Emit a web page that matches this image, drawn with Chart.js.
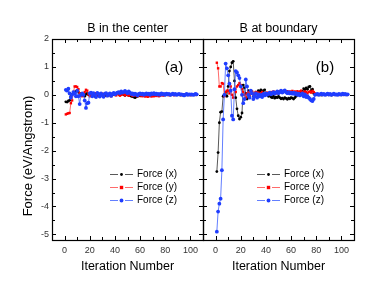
<!DOCTYPE html>
<html><head><meta charset="utf-8">
<script src="https://cdn.jsdelivr.net/npm/chart.js@4.4.0/dist/chart.umd.min.js"></script>
<style>
html,body{margin:0;padding:0;background:#fff;}
#wrap{position:relative;width:374px;height:294px;overflow:hidden;}
#wrap canvas{position:absolute;left:0;top:0;}
</style></head><body>
<div id="wrap"><canvas id="ca" width="374" height="294"></canvas><canvas id="cb" width="374" height="294"></canvas></div>
<script>
// ---- data ----
const iterations = [1,2,3,4,5,6,7,8,9,10,11,12,13,14,15,16,17,18,19,20,21,22,23,24,25,26,27,28,29,30,31,32,33,34,35,36,37,38,39,40,41,42,43,44,45,46,47,48,49,50,51,52,53,54,55,56,57,58,59,60,61,62,63,64,65,66,67,68,69,70,71,72,73,74,75,76,77,78,79,80,81,82,83,84,85,86,87,88,89,90,91,92,93,94,95,96,97,98,99,100,101,102,103,104,105];

const centerForceX = [-0.25,-0.26,-0.22,-0.2,-0.05,0.02,0.05,0.1,0.12,0.15,
 0.1,0.05,-0.02,0.03,0.0,-0.05,0.02,0.05,0.0,0.03,
 0.05,-0.03,0.02,-0.05,0.03,0.0,-0.04,0.02,0.04,-0.02,
 0.01,-0.03,0.02,0.0,-0.02,0.03,0.01,-0.01,0.02,0.0,
 0.03,0.05,0.02,0.04,0.06,0.03,0.01,-0.02,0.02,0.0,
 -0.02,-0.03,-0.05,-0.06,-0.08,-0.1,-0.07,-0.05,-0.03,-0.04,
 -0.02,0.0,-0.03,-0.02,0.01,-0.02,0.0,-0.01,0.02,0.0,
 0.01,-0.01,0.0,0.01,-0.01,0.0,0.01,0.0,-0.01,0.0,
 0.01,0.0,0.0,-0.01,0.0,0.01,0.0,0.0,0.01,0.0,
 0.0,-0.01,0.0,0.0,0.01,0.0,0.0,0.0,0.01,0.0,
 0.0,0.01,0.0,0.0,0.0];
const centerForceY = [-0.7,-0.68,-0.66,-0.65,-0.3,-0.2,0.1,0.3,0.3,0.28,
 0.2,0.05,0.0,-0.05,0.02,0.1,0.18,0.15,0.02,-0.05,
 0.04,-0.03,0.02,0.05,-0.02,0.03,0.0,-0.05,0.02,0.04,
 -0.03,0.02,0.05,-0.04,0.0,0.03,-0.05,0.02,0.06,0.0,
 -0.02,0.04,0.02,-0.03,0.0,0.05,0.02,-0.02,0.03,0.0,
 -0.03,0.02,0.0,-0.04,-0.02,0.01,-0.03,-0.05,-0.02,0.0,
 -0.04,-0.05,-0.03,-0.06,-0.04,-0.07,-0.05,-0.03,-0.06,-0.04,
 -0.05,-0.03,-0.04,-0.02,-0.05,-0.03,0.0,-0.02,-0.01,0.0,
 0.01,0.0,-0.01,0.0,0.01,0.0,-0.01,0.0,0.0,0.01,
 0.0,0.0,-0.01,0.0,0.0,0.01,0.0,0.0,0.0,-0.01,
 0.0,0.0,0.0,0.01,0.0];
const centerForceZ = [0.18,0.15,0.22,0.05,-0.1,0.0,0.1,0.05,-0.05,0.15,
 -0.05,-0.33,0.0,0.05,0.0,-0.2,-0.47,-0.3,-0.28,0.05,
 0.08,-0.05,0.06,0.0,-0.08,0.07,0.03,-0.06,0.05,0.0,
 -0.07,0.04,0.06,-0.03,0.02,0.05,-0.04,0.03,0.07,0.02,
 0.05,0.08,0.1,0.06,0.12,0.08,0.1,0.14,0.1,0.06,
 0.12,0.08,0.03,0.05,0.0,0.04,0.02,-0.02,0.03,0.05,
 0.02,0.04,0.0,0.03,0.05,0.02,0.04,0.0,0.05,0.03,
 0.06,0.02,0.04,0.01,0.03,0.0,0.05,0.02,0.03,0.0,
 0.04,0.02,0.03,0.0,0.02,0.04,0.01,0.03,0.0,0.02,
 0.03,0.01,0.02,0.0,-0.02,0.01,0.03,0.0,0.02,0.01,
 0.02,0.0,0.01,0.03,0.02];

const boundaryForceX = [-2.75,-2.07,-1.0,-0.62,-0.6,-0.05,0.0,0.1,-0.05,0.3,
 0.85,1.0,1.15,1.2,0.5,-0.1,-0.5,-0.75,-0.87,-0.8,
 -0.65,0.35,0.25,0.05,-0.15,0.15,-0.1,0.05,0.1,-0.05,
 0.0,0.1,-0.08,0.15,0.12,0.18,0.1,0.15,0.18,0.05,
 0.0,-0.05,0.02,-0.08,-0.1,-0.05,-0.12,-0.08,-0.1,-0.06,
 -0.1,-0.14,-0.12,-0.15,-0.1,-0.13,-0.16,-0.12,-0.14,-0.1,
 -0.12,-0.15,-0.1,-0.05,0.0,0.05,0.1,0.05,0.12,0.22,
 0.18,0.25,0.2,0.28,0.3,0.15,0.2,0.05,0.0,0.02,
 0.0,0.01,0.0,-0.01,0.0,0.01,0.0,0.0,0.01,0.0,
 0.0,-0.01,0.0,0.01,0.0,0.0,0.01,0.0,0.0,0.0,
 0.01,0.0,0.0,0.01,0.0];
const boundaryForceY = [1.15,0.95,0.3,0.3,0.42,0.4,-0.05,0.1,0.15,0.15,
 0.05,0.3,0.0,-0.1,0.2,0.1,0.3,0.35,0.42,0.35,
 0.2,0.1,0.0,-0.1,0.05,0.1,-0.05,0.08,0.12,0.0,
 0.05,0.1,0.02,0.08,0.0,0.05,0.1,0.03,-0.02,0.05,
 0.08,0.02,0.05,0.1,0.06,0.12,0.08,0.1,0.05,0.12,
 0.1,0.14,0.08,0.12,0.15,0.1,0.13,0.08,0.12,0.1,
 0.14,0.1,0.12,0.08,0.13,0.1,0.12,0.15,0.1,0.08,
 0.12,0.1,0.05,0.1,0.12,0.08,0.14,0.1,0.05,0.02,
 0.01,0.0,0.02,0.0,0.01,0.0,0.0,0.01,0.0,0.0,
 0.01,0.0,0.0,0.0,0.01,0.0,0.0,0.0,0.0,0.01,
 0.0,0.0,0.01,0.0,0.0];
const boundaryForceZ = [-4.9,-4.18,-3.9,-3.72,-2.7,-0.88,0.0,1.12,0.95,0.7,
 0.4,0.15,-0.75,-0.88,0.2,0.85,0.8,0.7,0.6,0.3,
 0.0,-0.3,-0.15,0.55,0.3,0.0,-0.1,0.15,0.05,-0.15,
 -0.05,0.05,-0.1,0.02,-0.05,0.0,-0.08,0.03,-0.02,0.05,
 0.0,0.04,0.08,0.02,0.06,0.1,0.04,0.08,0.12,0.06,
 0.1,0.15,0.08,0.12,0.16,0.1,0.06,0.1,0.05,0.08,
 0.04,0.08,0.03,0.06,0.0,0.04,-0.02,0.02,0.05,-0.05,
 0.02,-0.08,-0.05,-0.1,-0.15,-0.2,-0.22,-0.15,0.0,0.02,
 0.03,0.0,0.02,0.04,0.01,0.03,0.0,0.02,0.04,0.01,
 0.03,0.0,0.02,0.04,0.01,0.02,0.0,0.03,0.02,0.01,
 0.04,0.02,0.03,0.01,0.02];

const seriesLabels = ['Force (x)','Force (y)','Force (z)'];
const xTickValues = [0,20,40,60,80,100];
const yTickValues = [-5,-4,-3,-2,-1,0,1,2];
const panelTitles = ['B in the center','B at boundary'];
const panelTags = ['(a)','(b)'];
const xTitle = 'Iteration Number';
const yTitle = 'Force (eV/Angstrom)';

// ---- rendering ----
const FONT = '"Liberation Sans", Arial, sans-serif';

function drawMarker(ctx, style, r, x, y, color){
  ctx.fillStyle = color;
  ctx.beginPath();
  if (style === 'rect') { ctx.rect(x - r, y - r, 2*r, 2*r); }
  else { ctx.arc(x, y, r, 0, Math.PI*2); }
  ctx.fill();
}

const framePlugin = {
  id: 'frame',
  afterDraw(chart, args, o) {
    const {ctx, chartArea:{left,right,top,bottom}, scales:{x,y}} = chart;
    ctx.save();
    ctx.strokeStyle = '#000';
    ctx.lineWidth = 1.2;
    ctx.strokeRect(left + 0.5, top + 0.5, right - left, bottom - top);
    ctx.lineWidth = 1;
    ctx.beginPath();
    for (let v = xTickValues[0]; v <= xTickValues[xTickValues.length-1]; v += 10) {
      const px = Math.round(x.getPixelForValue(v)) + 0.5;
      const len = (v % 20 === 0) ? 4 : 3;
      ctx.moveTo(px, bottom); ctx.lineTo(px, bottom - len);
      ctx.moveTo(px, top); ctx.lineTo(px, top + len);
    }
    for (let v = yTickValues[0]; v <= yTickValues[yTickValues.length-1] + 1e-9; v += 0.5) {
      const py = Math.round(y.getPixelForValue(v)) + 0.5;
      const len = (Math.abs(v % 1) < 1e-9) ? 4 : 3;
      ctx.moveTo(left, py); ctx.lineTo(left + len, py);
      ctx.moveTo(right, py); ctx.lineTo(right - len, py);
    }
    ctx.stroke();

    // legend
    ctx.font = '10px ' + FONT;
    ctx.textBaseline = 'middle';
    ctx.textAlign = 'left';
    chart.data.datasets.forEach((ds, i) => {
      const yy = o.legendY + i * 13;
      const x0 = o.legendX;
      ctx.strokeStyle = ds.borderColor;
      ctx.lineWidth = 1;
      ctx.beginPath();
      ctx.moveTo(x0, yy + 0.5); ctx.lineTo(x0 + 8, yy + 0.5);
      ctx.moveTo(x0 + 15, yy + 0.5); ctx.lineTo(x0 + 23, yy + 0.5);
      ctx.stroke();
      drawMarker(ctx, ds.pointStyle, ds.pointRadius, x0 + 11.5, yy + 0.5, ds.pointBackgroundColor);
      ctx.fillStyle = '#000';
      ctx.fillText(ds.label, x0 + 27, yy + 0.5);
    });

    // panel tag
    ctx.font = '15px ' + FONT;
    ctx.textAlign = 'center';
    ctx.textBaseline = 'alphabetic';
    ctx.fillStyle = '#000';
    ctx.fillText(o.tag, o.tagX, o.tagY);

    if (o.yTitle) {
      ctx.translate(o.yTitleX, o.yTitleY);
      ctx.rotate(-Math.PI/2);
      ctx.font = '13px ' + FONT;
      ctx.textAlign = 'center';
      ctx.fillText(o.yTitle, 0, 0);
    }
    ctx.restore();
  }
};

function makeDatasets(vx, vy, vz) {
  const mk = (label, vals, color, lineColor, style, r, order) => ({
    label,
    data: iterations.map((it, i) => ({x: it, y: vals[i]})),
    borderColor: lineColor,
    backgroundColor: color,
    pointBackgroundColor: color,
    pointBorderColor: color,
    pointBorderWidth: 0,
    pointStyle: style,
    pointRadius: r,
    borderWidth: 1,
    tension: 0,
    order
  });
  return [
    mk(seriesLabels[0], vx, '#000000', 'rgba(60,60,60,0.85)', 'circle', 1.4, 2),
    mk(seriesLabels[1], vy, '#ff0000', 'rgba(255,70,70,0.8)', 'rect', 1.7, 1),
    mk(seriesLabels[2], vz, '#1f3dff', 'rgba(60,95,255,0.8)', 'circle', 1.9, 0)
  ];
}

function makeChart(id, datasets, opt) {
  const yScale = {
    type: 'linear', min: -5.2, max: 2, display: opt.showY,
    grid: { display: false, drawTicks: false }, border: { display: false },
    afterBuildTicks: s => { s.ticks = yTickValues.map(v => ({ value: v })); },
    ticks: { font: { size: 9, family: FONT }, color: '#333', padding: 3 }
  };
  if (opt.showY) yScale.afterFit = s => { s.width = 52; };
  return new Chart(document.getElementById(id), {
    type: 'line',
    data: { datasets },
    plugins: [framePlugin],
    options: {
      responsive: false,
      animation: false,
      devicePixelRatio: 1,
      layout: { padding: opt.padding },
      plugins: {
        legend: { display: false },
        tooltip: { enabled: false },
        title: {
          display: true, text: opt.title, fullSize: false,
          font: { size: 12.5, family: FONT, weight: 'normal' }, color: '#000',
          padding: { top: 0.5, bottom: 2.5 }
        },
        frame: opt.frame
      },
      scales: {
        x: {
          type: 'linear', min: -10, max: 110,
          grid: { display: false, drawTicks: false }, border: { display: false },
          afterBuildTicks: s => { s.ticks = xTickValues.map(v => ({ value: v })); },
          ticks: { font: { size: 9, family: FONT }, color: '#333', padding: 5, maxRotation: 0, autoSkip: false },
          title: { display: true, text: xTitle, font: { size: 12.5, family: FONT }, color: '#000', padding: { top: 0, bottom: 19.5 } },
          afterFit: s => { s.height = 54; }
        },
        y: yScale
      }
    }
  });
}

makeChart('ca', makeDatasets(centerForceX, centerForceY, centerForceZ), {
  title: panelTitles[0], showY: true,
  padding: { left: 0, right: 171, top: 21, bottom: 0 },
  frame: { legendX: 110, legendY: 174, tag: panelTags[0], tagX: 174, tagY: 72, yTitle: yTitle, yTitleX: 32, yTitleY: 156 }
});
makeChart('cb', makeDatasets(boundaryForceX, boundaryForceY, boundaryForceZ), {
  title: panelTitles[1], showY: false,
  padding: { left: 203, right: 20, top: 21, bottom: 0 },
  frame: { legendX: 257, legendY: 174, tag: panelTags[1], tagX: 325, tagY: 72 }
});
</script>
</body></html>
